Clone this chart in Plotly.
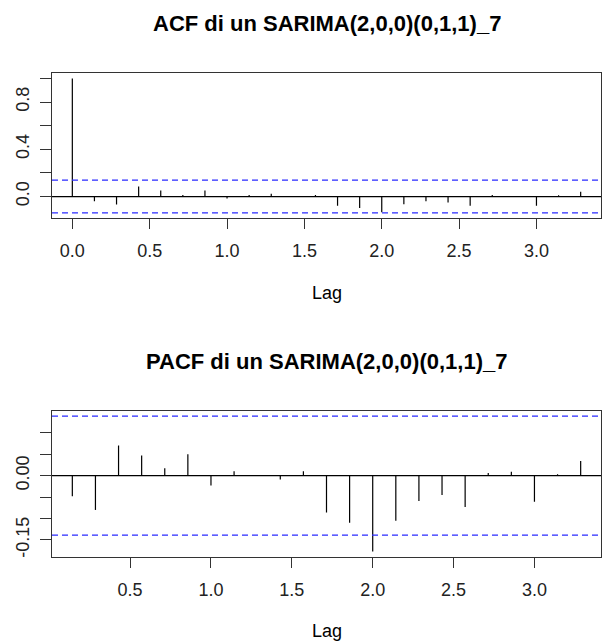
import plotly.graph_objects as go

# ---- data ----
frequency = 7
acf_lag_index = [0, 1, 2, 3, 4, 5, 6, 7, 8, 9, 10, 11, 12, 13, 14, 15, 16, 17, 18, 19, 20, 21, 22, 23]
acf_values = [1.0, -0.040, -0.068, 0.085, 0.051, 0.014, 0.051, -0.017, 0.014, 0.023, 0.003, 0.014,
              -0.077, -0.097, -0.134, -0.066, -0.040, -0.050, -0.078, 0.014, 0.002, -0.077, 0.011, 0.040]

pacf_lag_index = [1, 2, 3, 4, 5, 6, 7, 8, 9, 10, 11, 12, 13, 14, 15, 16, 17, 18, 19, 20, 21, 22, 23]
pacf_values = [-0.048, -0.080, 0.070, 0.047, 0.017, 0.050, -0.023, 0.010, 0.001, -0.009, 0.010,
               -0.086, -0.110, -0.177, -0.105, -0.059, -0.045, -0.073, 0.006, 0.009, -0.061, 0.003, 0.034]

conf_bound = 0.1386

acf_title = "ACF di un SARIMA(2,0,0)(0,1,1)_7"
pacf_title = "PACF di un SARIMA(2,0,0)(0,1,1)_7"
x_label = "Lag"

acf_xticks = [0.0, 0.5, 1.0, 1.5, 2.0, 2.5, 3.0]
acf_xticktext = ["0.0", "0.5", "1.0", "1.5", "2.0", "2.5", "3.0"]
pacf_xticks = [0.5, 1.0, 1.5, 2.0, 2.5, 3.0]
pacf_xticktext = ["0.5", "1.0", "1.5", "2.0", "2.5", "3.0"]
acf_yticks = [0.0, 0.2, 0.4, 0.6, 0.8, 1.0]
acf_yticktext = ["0.0", "", "0.4", "", "0.8", ""]
pacf_yticks = [-0.15, -0.10, -0.05, 0.0, 0.05, 0.10]
pacf_yticktext = ["-0.15", "", "", "0.00", "", ""]

# ---- helpers ----
acf_lags = [k / frequency for k in acf_lag_index]
pacf_lags = [k / frequency for k in pacf_lag_index]


def spikes(lags, vals):
    xs, ys = [], []
    for l, v in zip(lags, vals):
        xs += [l, l, None]
        ys += [0, v, None]
    return xs, ys


def r_range(lo, hi):
    pad = (hi - lo) * 0.04
    return [lo - pad, hi + pad]


FONT = "Liberation Sans, Arial, Helvetica, sans-serif"
FRAME = "#333333"
TXT = "#222222"

ax_x, ay_x = spikes(acf_lags, acf_values)
px_x, py_x = spikes(pacf_lags, pacf_values)

fig = go.Figure()
fig.add_trace(go.Scatter(x=ax_x, y=ay_x, mode="lines", line=dict(color="black", width=1.2),
                         xaxis="x", yaxis="y", showlegend=False, hoverinfo="skip"))
fig.add_trace(go.Scatter(x=px_x, y=py_x, mode="lines", line=dict(color="black", width=1.2),
                         xaxis="x2", yaxis="y2", showlegend=False, hoverinfo="skip"))

acf_xr = r_range(min(acf_lags), max(acf_lags))
pacf_xr = r_range(min(pacf_lags), max(pacf_lags))
acf_yr = r_range(min(min(acf_values), -conf_bound), max(max(acf_values), conf_bound))
pacf_yr = r_range(min(min(pacf_values), -conf_bound), max(max(pacf_values), conf_bound))

common_x = dict(ticks="outside", ticklen=10, tickwidth=1, tickcolor=FRAME, showline=True,
                mirror=True, linecolor=FRAME, linewidth=1, showgrid=False, zeroline=False,
                tickfont=dict(family=FONT, size=18, color=TXT), ticklabelstandoff=6)
common_y = dict(ticks="outside", ticklen=11, tickwidth=1, tickcolor=FRAME, showline=True,
                mirror=True, linecolor=FRAME, linewidth=1, showgrid=False, zeroline=False,
                tickangle=-90, tickfont=dict(family=FONT, size=18, color=TXT), ticklabelstandoff=4)

dom_acf = [0.6998, 1.0]
dom_pacf = [0.0, 0.3023]

fig.update_layout(
    width=602, height=641,
    margin=dict(l=52, r=1, t=73, b=84),
    paper_bgcolor="white", plot_bgcolor="white",
    xaxis=dict(domain=[0, 1], anchor="y", range=acf_xr, tickvals=acf_xticks, ticktext=acf_xticktext, **common_x),
    yaxis=dict(domain=dom_acf, anchor="x", range=acf_yr, tickvals=acf_yticks, ticktext=acf_yticktext, **common_y),
    xaxis2=dict(domain=[0, 1], anchor="y2", range=pacf_xr, tickvals=pacf_xticks, ticktext=pacf_xticktext, **common_x),
    yaxis2=dict(domain=dom_pacf, anchor="x2", range=pacf_yr, tickvals=pacf_yticks, ticktext=pacf_yticktext, **common_y),
)

shapes = []
for xr_, yr_ in (("x", "y"), ("x2", "y2")):
    shapes.append(dict(type="line", xref=f"{xr_} domain", x0=0, x1=1, yref=yr_, y0=0, y1=0,
                       line=dict(color="black", width=1.2)))
    for s in (conf_bound, -conf_bound):
        shapes.append(dict(type="line", xref=f"{xr_} domain", x0=0, x1=1, yref=yr_, y0=s, y1=s,
                           line=dict(color="#2a2aff", width=1.3, dash="6px,4px")))
fig.update_layout(shapes=shapes)

plot_top, plot_h = 73, 484


def py(pix):
    return (plot_top + plot_h - pix) / plot_h


annos = [
    dict(text=acf_title, x=0.5, y=py(23), yanchor="middle", size=22, bold=True),
    dict(text=x_label, x=0.5, y=py(293), yanchor="middle", size=18, bold=False),
    dict(text=pacf_title, x=0.5, y=py(361), yanchor="middle", size=22, bold=True),
    dict(text=x_label, x=0.5, y=py(631), yanchor="middle", size=18, bold=False),
]
for a in annos:
    fig.add_annotation(text=a["text"], xref="paper", yref="paper", x=a["x"], y=a["y"],
                       xanchor="center", yanchor=a["yanchor"], showarrow=False,
                       font=dict(family=FONT, size=a["size"], color="black",
                                 weight="bold" if a["bold"] else "normal"))

fig.write_html("out.html")
